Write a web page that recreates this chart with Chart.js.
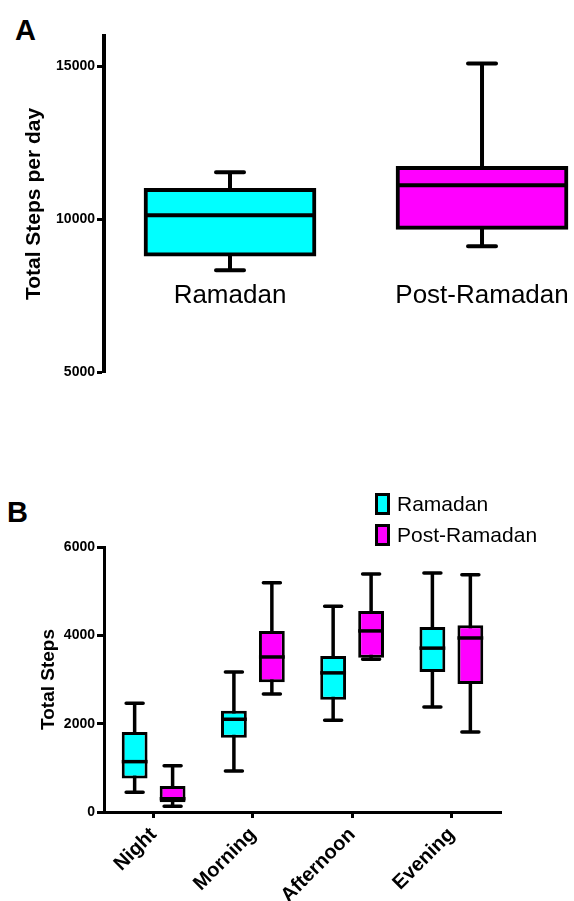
<!DOCTYPE html>
<html>
<head>
<meta charset="utf-8">
<script src="https://cdn.jsdelivr.net/npm/chart.js@4.4.1/dist/chart.umd.min.js"></script>
<style>
  html, body { margin: 0; padding: 0; background: #fff; overflow: hidden; }
  body { width: 574px; height: 901px; position: relative; font-family: "Liberation Sans", Arial, sans-serif; }
  canvas { position: absolute; left: 0; }
  #chartA { top: 0; }
  #chartB { top: 420px; }
  .panel { position: absolute; font-weight: bold; font-size: 29px; line-height: 1; color: #000; }
  #legendB { position: absolute; left: 375px; top: 488px; }
  .leg-item { display: flex; align-items: center; height: 31px; font-size: 21px; color: #000; }
  .leg-box { width: 9px; height: 16px; border: 3px solid #000; margin-right: 7px; }
</style>
</head>
<body>
<div class="panel" style="left:15px; top:16px;">A</div>
<div class="panel" style="left:7px; top:498px;">B</div>
<canvas id="chartA" width="574" height="420"></canvas>
<canvas id="chartB" width="574" height="481"></canvas>
<div id="legendB"></div>
<script>
// Panel A: total daily steps
const groupsA = ['Ramadan', 'Post-Ramadan'];
const minA = [8330, 9120];
const q1A = [8790, 9670];
const medA = [10130, 11110];
const q3A = [11010, 11730];
const maxA = [11540, 15100];
const ticksA = [5000, 10000, 15000];

// Panel B: steps by time of day
const periods = ['Night', 'Morning', 'Afternoon', 'Evening'];
const seriesNames = ['Ramadan', 'Post-Ramadan'];
const ramMin = [450, 930, 2080, 2380];
const ramQ1 = [760, 1680, 2540, 3170];
const ramMed = [1140, 2100, 3150, 3710];
const ramQ3 = [1810, 2290, 3530, 4190];
const ramMax = [2460, 3170, 4660, 5410];
const postMin = [130, 2670, 3460, 1810];
const postQ1 = [220, 2940, 3490, 2900];
const postMed = [300, 3510, 4100, 3940];
const postQ3 = [590, 4100, 4550, 4230];
const postMax = [1050, 5190, 5390, 5370];

const CYAN = '#00FFFF';
const MAGENTA = '#FF00FF';
const FONT = '"Liberation Sans", Arial, sans-serif';

// whiskers + caps under the boxes, medians on top
function whiskerPlugin(stats, capWidth, lineWidth) {
  return {
    id: 'whiskers',
    beforeDatasetsDraw(chart) {
      const ctx = chart.ctx;
      const y = chart.scales.y;
      ctx.save();
      ctx.strokeStyle = '#000';
      ctx.lineWidth = lineWidth;
      chart.data.datasets.forEach((ds, d) => {
        const s = stats[d];
        chart.getDatasetMeta(d).data.forEach((bar, i) => {
          const top = y.getPixelForValue(s.max[i]);
          const bot = y.getPixelForValue(s.min[i]);
          ctx.lineCap = 'butt';
          ctx.beginPath();
          ctx.moveTo(bar.x, top);
          ctx.lineTo(bar.x, bot);
          ctx.stroke();
          ctx.lineCap = 'round';
          ctx.beginPath();
          ctx.moveTo(bar.x - capWidth / 2, top);
          ctx.lineTo(bar.x + capWidth / 2, top);
          ctx.moveTo(bar.x - capWidth / 2, bot);
          ctx.lineTo(bar.x + capWidth / 2, bot);
          ctx.stroke();
        });
      });
      ctx.restore();
    },
    afterDatasetsDraw(chart) {
      const ctx = chart.ctx;
      const y = chart.scales.y;
      ctx.save();
      ctx.strokeStyle = '#000';
      ctx.lineWidth = lineWidth;
      chart.data.datasets.forEach((ds, d) => {
        const s = stats[d];
        chart.getDatasetMeta(d).data.forEach((bar, i) => {
          const m = y.getPixelForValue(s.med[i]);
          ctx.beginPath();
          ctx.moveTo(bar.x - bar.width / 2, m);
          ctx.lineTo(bar.x + bar.width / 2, m);
          ctx.stroke();
        });
      });
      ctx.restore();
    }
  };
}

const chartA = new Chart(document.getElementById('chartA'), {
  type: 'bar',
  data: {
    datasets: [{
      data: groupsA.map((g, i) => ({ x: i + 1, y: [q1A[i], q3A[i]] })),
      backgroundColor: [CYAN, MAGENTA],
      borderColor: '#000',
      borderWidth: 4,
      borderSkipped: false,
      barThickness: 172
    }]
  },
  options: {
    responsive: false,
    animation: false,
    events: [],
    layout: { padding: { top: 36, bottom: 48, left: 0, right: 0 } },
    plugins: { legend: { display: false }, tooltip: { enabled: false } },
    scales: {
      x: {
        type: 'linear',
        offset: false,
        position: { y: 8320 },
        min: 0.5,
        max: 2.365,
        grid: { display: false },
        border: { display: false },
        afterBuildTicks: s => { s.ticks = groupsA.map((g, i) => ({ value: i + 1 })); },
        afterFit: s => { s.height = 0; s.paddingLeft = 0; s.paddingRight = 0; },
        ticks: {
          color: '#000',
          font: { family: FONT, size: 26 },
          maxRotation: 0,
          padding: 2,
          callback: v => groupsA[v - 1]
        }
      },
      y: {
        min: 5000,
        max: 16000,
        afterFit: s => { s.width = 104; },
        afterBuildTicks: s => { s.ticks = ticksA.map(v => ({ value: v })); },
        grid: { drawOnChartArea: false, tickLength: 7, tickWidth: 3, tickColor: '#000' },
        border: { color: '#000', width: 4 },
        ticks: {
          color: '#000',
          font: { family: FONT, size: 14, weight: 'bold' },
          padding: 2,
          callback: v => String(v)
        },
        title: {
          display: true,
          text: 'Total Steps per day',
          color: '#000',
          font: { family: FONT, size: 21, weight: 'bold' },
          padding: { top: 22, bottom: 0 }
        }
      }
    }
  },
  plugins: [whiskerPlugin([{ min: minA, med: medA, max: maxA }], 28, 4)]
});

const chartB = new Chart(document.getElementById('chartB'), {
  type: 'bar',
  data: {
    labels: periods,
    datasets: [
      {
        label: seriesNames[0],
        data: periods.map((p, i) => [ramQ1[i], ramQ3[i]]),
        backgroundColor: CYAN
      },
      {
        label: seriesNames[1],
        data: periods.map((p, i) => [postQ1[i], postQ3[i]]),
        backgroundColor: MAGENTA
      }
    ].map(ds => Object.assign(ds, {
      borderColor: '#000',
      borderWidth: 3,
      borderSkipped: false,
      categoryPercentage: 0.765,
      barPercentage: 0.68
    }))
  },
  options: {
    responsive: false,
    animation: false,
    events: [],
    layout: { padding: { top: 127, right: 73, left: 0, bottom: 0 } },
    plugins: { legend: { display: false }, tooltip: { enabled: false } },
    scales: {
      x: {
        offset: true,
        afterFit: s => { s.height = 89; s.paddingLeft = 0; s.paddingRight = 0; },
        grid: { drawOnChartArea: false, offset: false, tickLength: 6, tickWidth: 3, tickColor: '#000' },
        border: { color: '#000', width: 3 },
        ticks: {
          color: '#000',
          font: { family: FONT, size: 20, weight: 'bold' },
          minRotation: 45,
          maxRotation: 45,
          padding: 5
        }
      },
      y: {
        min: 0,
        max: 6000,
        afterFit: s => { s.width = 104; },
        grid: { drawOnChartArea: false, tickLength: 7, tickWidth: 3, tickColor: '#000' },
        border: { color: '#000', width: 3 },
        ticks: {
          stepSize: 2000,
          color: '#000',
          font: { family: FONT, size: 14, weight: 'bold' },
          padding: 2,
          callback: v => String(v)
        },
        title: {
          display: true,
          text: 'Total Steps',
          color: '#000',
          font: { family: FONT, size: 19, weight: 'bold' },
          padding: { top: 37, bottom: 0 }
        }
      }
    }
  },
  plugins: [whiskerPlugin([
    { min: ramMin, med: ramMed, max: ramMax },
    { min: postMin, med: postMed, max: postMax }
  ], 17, 3.5)]
});

// html legend built from the chart's datasets
const legendEl = document.getElementById('legendB');
chartB.data.datasets.forEach(ds => {
  const item = document.createElement('div');
  item.className = 'leg-item';
  const box = document.createElement('span');
  box.className = 'leg-box';
  box.style.background = ds.backgroundColor;
  const txt = document.createElement('span');
  txt.textContent = ds.label;
  item.appendChild(box);
  item.appendChild(txt);
  legendEl.appendChild(item);
});
</script>
</body>
</html>
